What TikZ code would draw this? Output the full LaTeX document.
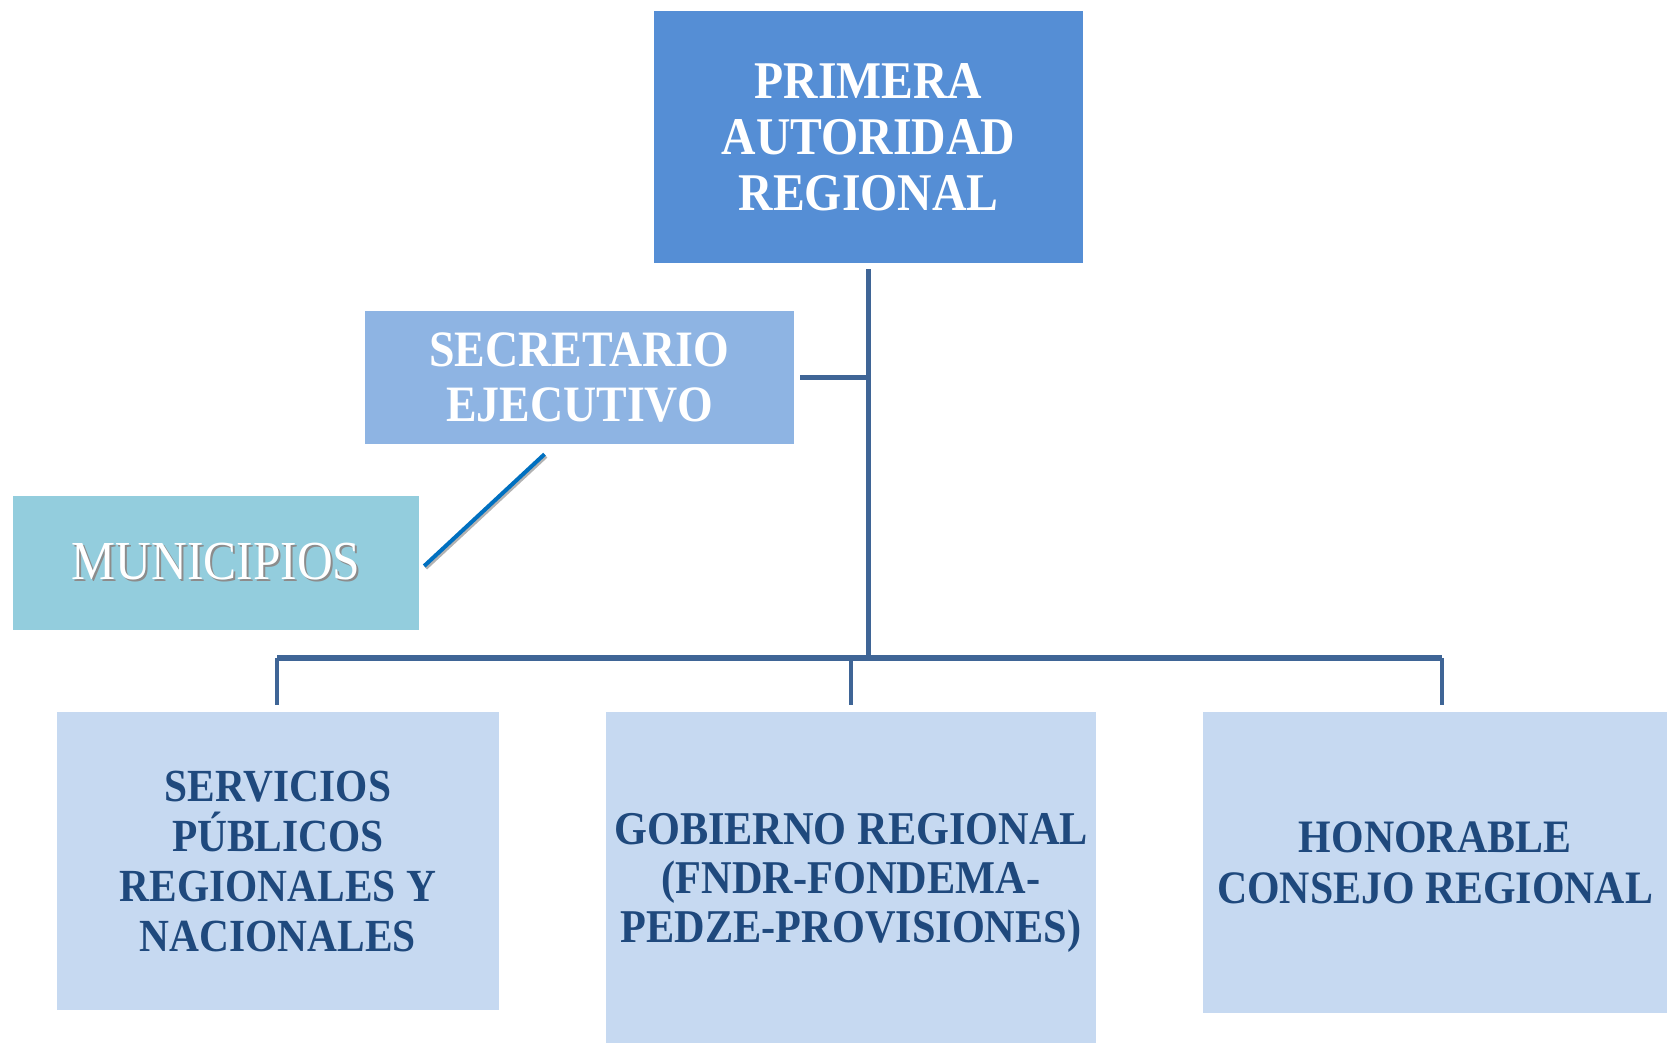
\documentclass[tikz,border=0pt]{standalone}
\usepackage{fontspec}
\setmainfont{Liberation Serif}[FakeStretch=0.9]
\definecolor{azulfuerte}{HTML}{558ED5}
\definecolor{azulmedio}{HTML}{8EB4E3}
\definecolor{celeste}{HTML}{93CDDD}
\definecolor{azulclaro}{HTML}{C6D9F1}
\definecolor{tinta}{HTML}{1F497D}
\definecolor{linea}{HTML}{3F6596}
\definecolor{enlace}{HTML}{0070C0}
\newcommand{\sombra}[1]{\rlap{\kern2pt\raisebox{-2pt}{\color{black!45}#1}}#1}
\tikzset{
  caja/.style={rectangle, inner sep=0pt, align=center},
  jefe/.style={caja, fill=azulfuerte, text=white, font=\fontsize{53}{56}\selectfont\bfseries},
  secre/.style={caja, fill=azulmedio, text=white, font=\fontsize{51}{55}\selectfont\bfseries},
  muni/.style={caja, fill=celeste, text=white, font=\fontsize{55}{60}\selectfont},
  rama/.style={caja, fill=azulclaro, text=tinta, font=\fontsize{46}{50}\selectfont\bfseries},
  trunk/.style={draw=linea, line width=5pt},
  bus/.style={draw=linea, line width=5.5pt},
  drop/.style={draw=linea, line width=3.5pt},
}
\begin{document}
\begin{tikzpicture}[x=1pt, y=-1pt]
  \useasboundingbox (0,0) rectangle (1667,1043);
  % boxes
  \node[jefe, minimum width=429pt, minimum height=252pt] (autoridad) at (868.5,137) {PRIMERA\\AUTORIDAD\\REGIONAL};
  \node[secre, minimum width=429pt, minimum height=133pt] (secretario) at (579.5,377.5) {SECRETARIO\\EJECUTIVO};
  \node[muni, minimum width=406pt, minimum height=134pt] (municipios) at (216,563) {\sombra{MUNICIPIOS}};
  \node[rama, minimum width=442pt, minimum height=298pt] (servicios) at (278,861) {SERVICIOS\\PÚBLICOS\\REGIONALES Y\\NACIONALES};
  \node[rama, minimum width=490pt, minimum height=342pt, font=\fontsize{47}{49}\selectfont\bfseries] (gobierno) at (851,883) {GOBIERNO REGIONAL\\(FNDR-FONDEMA-\\PEDZE-PROVISIONES)};
  \node[rama, minimum width=464pt, minimum height=301pt, font=\fontsize{46.5}{51}\selectfont\bfseries] (consejo) at (1435,862.5) {HONORABLE\\CONSEJO REGIONAL};
  % connectors
  \coordinate (busL) at (277,658);
  \coordinate (busR) at (1442,658);
  \draw[trunk] ([yshift=-6pt]autoridad.south) -- (autoridad.south |- busL);
  \draw[trunk] ([xshift=6pt]secretario.east) -- (secretario.east -| autoridad.south);
  \draw[bus] (busL) -- (busR);
  \draw[drop] (busL) -- ([yshift=7pt]servicios.north -| busL);
  \draw[drop] (gobierno.north |- busL) -- ([yshift=7pt]gobierno.north);
  \draw[drop] (busR) -- ([yshift=7pt]consejo.north -| busR);
  \draw[draw=black!30, line width=4pt, transform canvas={shift={(1.5pt,-2pt)}}] ([xshift=-35pt,yshift=-10pt]secretario.south) -- ([xshift=5pt,yshift=-3pt]municipios.east);
  \draw[draw=enlace, line width=4pt] ([xshift=-35pt,yshift=-10pt]secretario.south) -- ([xshift=5pt,yshift=-3pt]municipios.east);
\end{tikzpicture}
\end{document}
